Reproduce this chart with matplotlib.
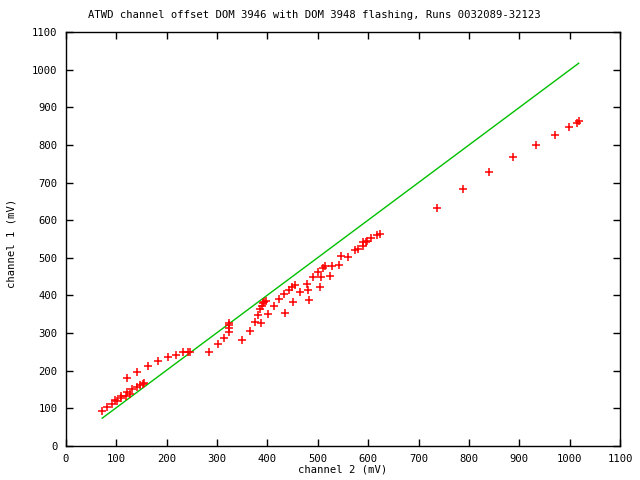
import matplotlib
matplotlib.use("Agg")
import matplotlib.pyplot as plt

ch2 = [72, 82, 92, 98, 102, 110, 110, 120, 122, 127, 132, 122, 140, 141, 147, 152, 155,
       163, 183, 203, 219, 233, 243, 246, 284, 302, 313, 323, 324, 324, 324, 350, 366,
       376, 388, 382, 386, 389, 392, 393, 397, 401, 413, 423, 435, 433, 443, 449, 451,
       455, 465, 479, 481, 483, 491, 501, 505, 507, 511, 515, 524, 528, 542, 546, 560,
       573, 580, 590, 590, 595, 598, 606, 618, 624, 736, 789, 840, 888, 933, 971, 999,
       1014, 1018]
ch1 = [93, 103, 111, 121, 119, 127, 132, 134, 143, 138, 151, 180, 156, 196, 162, 166, 168,
       213, 226, 236, 243, 249, 251, 251, 249, 270, 287, 303, 313, 321, 328, 282, 306,
       329, 327, 347, 363, 373, 379, 383, 385, 351, 371, 390, 353, 403, 414, 422, 382,
       428, 408, 430, 414, 387, 448, 461, 422, 448, 472, 479, 453, 477, 480, 505, 502,
       520, 523, 541, 531, 541, 545, 552, 560, 562, 632, 682, 727, 768, 801, 826, 847,
       857, 863]

line_x = [72, 1018]
line_y = [74, 1017]

title = "ATWD channel offset DOM 3946 with DOM 3948 flashing, Runs 0032089-32123"
xlabel = "channel 2 (mV)"
ylabel = "channel 1 (mV)"
ticks = list(range(0, 1101, 100))

plt.rcParams['font.family'] = ['DejaVu Sans Mono']
fs = 7.6
fig = plt.figure(figsize=(6.4, 4.8), dpi=100)
ax = fig.add_axes([66/640, 34/480, (620-66)/640, (446-32)/480])

ax.plot(line_x, line_y, color='#00c000', lw=1)
ax.plot(ch2, ch1, linestyle='none', marker='+', color='#ff0000', ms=6, mew=1.1)

ax.set_xlim(0, 1100)
ax.set_ylim(0, 1100)
ax.set_xticks(ticks)
ax.set_yticks(ticks)
ax.tick_params(direction='in', length=5, width=1, top=True, right=True,
               labelsize=fs, pad=6)
for s in ax.spines.values():
    s.set_linewidth(1)
fig.text(314/640, 1 - 15/480, title, fontsize=fs, ha='center', va='center')
fig.text(343/640, 1 - 470/480, xlabel, fontsize=fs, ha='center', va='center')
fig.text(12/640, 1 - 243/480, ylabel, fontsize=fs, ha='center', va='center',
         rotation=90)

fig.savefig("out.png", dpi=100)
